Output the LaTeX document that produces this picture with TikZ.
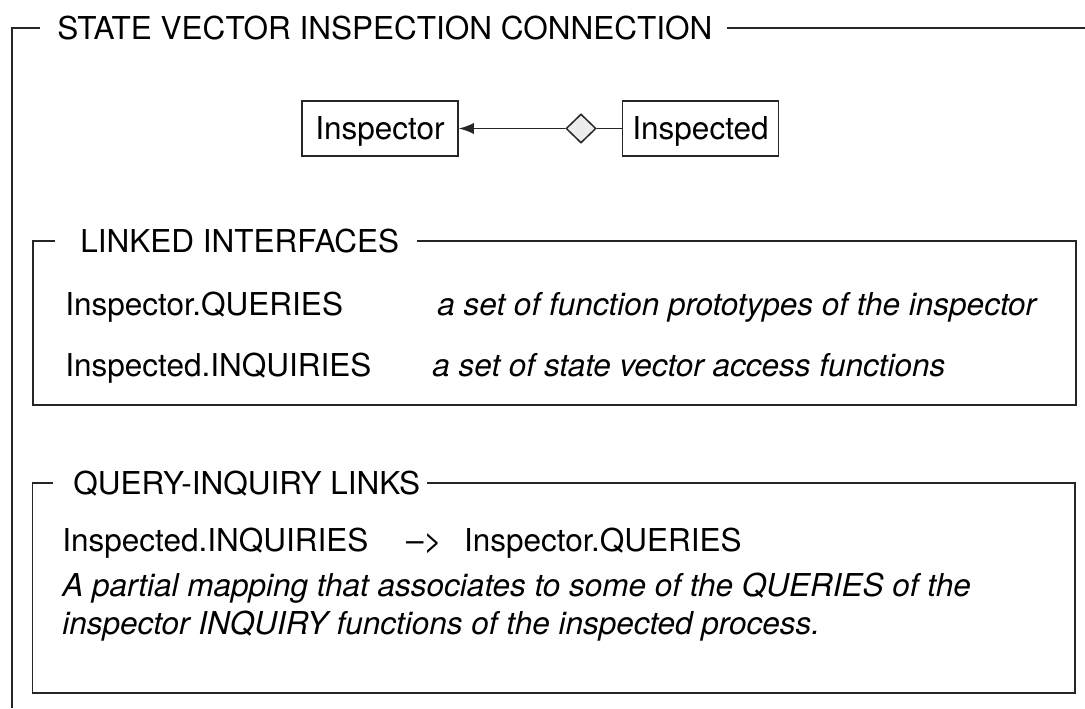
\documentclass[tikz,border=0pt]{standalone}
\usepackage{fontspec}
\setmainfont{TeX Gyre Heros}
\usetikzlibrary{arrows.meta,positioning,shapes.geometric}

\begin{document}
\begin{tikzpicture}[
		x=0.5pt,y=0.5pt,
		>={Latex[length=7.5pt,width=5.5pt]},
		every node/.style={font=\fontsize{15.75}{19}\selectfont, inner sep=0pt, text height=11.3pt, text depth=0pt},
		frame/.style={line width=0.75pt, draw=black!85},
		procbox/.style={draw=black!85, line width=0.75pt, minimum width=78pt, minimum height=27.5pt},
		rowtext/.style={anchor=west},
		note/.style={anchor=west, font=\fontsize{15.75}{19}\selectfont\itshape}
		]
		
		\useasboundingbox (0,0) rectangle (1085,708);
		
		% =========================
		% Outer frame
		% =========================
		\node[rowtext] (mainT) at (57,680) {STATE VECTOR INSPECTION CONNECTION};
		\draw[frame] ([xshift=-8.5pt]mainT.west) -- (12,680) -- (12,0);
		\draw[frame] ([xshift=7pt]mainT.east) -- (1085,680);
		
		% inspector / inspected
		\node[procbox] (inspector) at (380,579.5) {Inspector};
		\node[procbox] (inspected) at (700.5,579.5) {Inspected};
		\node[diamond, draw=black!85, fill=gray!15, line width=0.75pt, text height=0pt,
		minimum width=15pt, minimum height=14.5pt] (link) at (581,579.5) {};
		
		\draw[->, line width=0.75pt, black!85] (link) -- (inspector);
		\draw[line width=0.75pt, black!85] (link) -- (inspected);
		
		% =========================
		% Linked interfaces
		% =========================
		\node[rowtext] (linkedT) at (80,467) {LINKED INTERFACES};
		\draw[frame] ([xshift=-12.5pt]linkedT.west) -| (33,303) -| (1076,467) -- ([xshift=8.5pt]linkedT.east);
		
		\node[rowtext] (qrs) at (65,404) {Inspector.QUERIES};
		\node[rowtext] (inq) at (65,343) {Inspected.INQUIRIES};
		\node[note] (qrsNote) at (437,404) {a set of function prototypes of the inspector};
		\node[note] (inqNote) at (432,343) {a set of state vector access functions};
		
		% =========================
		% Query-inquiry links
		% =========================
		\node[rowtext] (queryT) at (73,225) {QUERY-INQUIRY LINKS};
		\draw[frame] ([xshift=-10pt]queryT.west) -| (32.5,15) -| (1075,225) -- ([xshift=3pt]queryT.east);
		
		\node[rowtext] (mapRow) at (62,168) {Inspected.INQUIRIES\hspace{1.2em}–>\hspace{0.7em}Inspector.QUERIES};
		\node[note] (mapNote1) at (62,123) {A partial mapping that associates to some of the QUERIES of the};
		\node[note] (mapNote2) at (62,85) {inspector INQUIRY functions of the inspected process.};
		
	\end{tikzpicture}
\end{document}
